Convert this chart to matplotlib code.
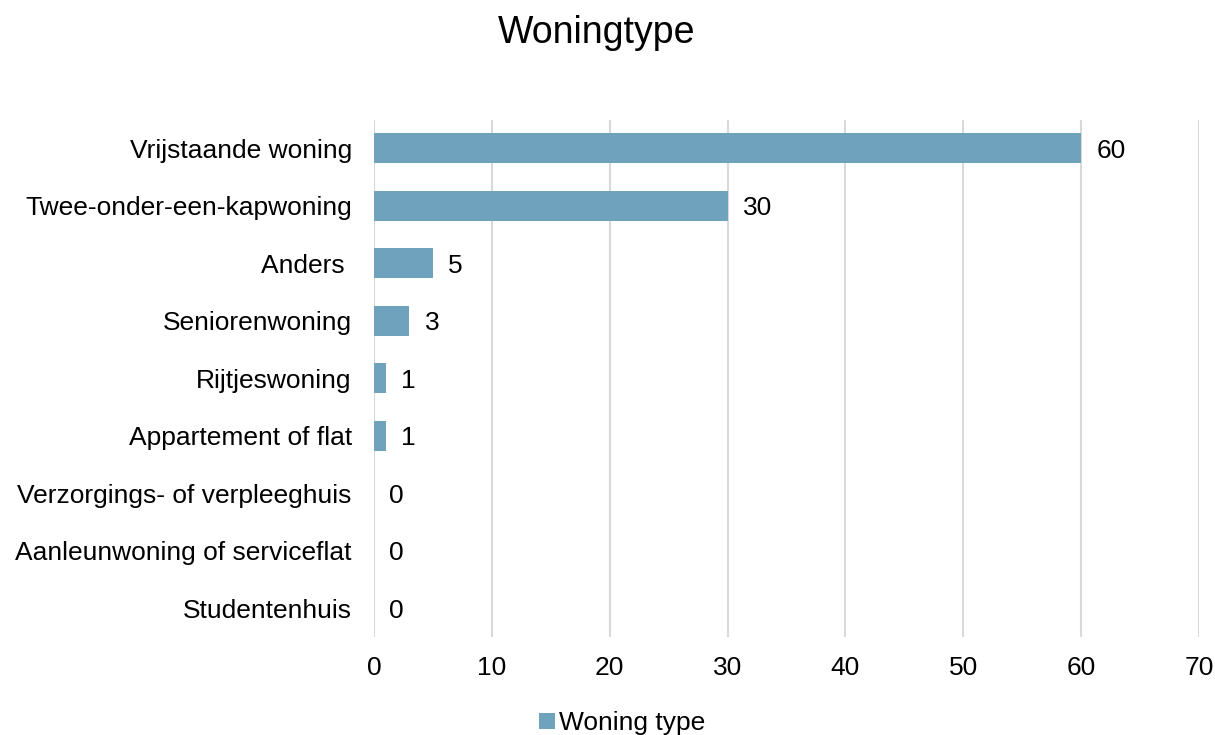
import matplotlib.pyplot as plt

plt.rcParams['font.family'] = ['Liberation Sans', 'DejaVu Sans']

categories = ["Vrijstaande woning", "Twee-onder-een-kapwoning", "Anders ", "Seniorenwoning",
              "Rijtjeswoning", "Appartement of flat", "Verzorgings- of verpleeghuis",
              "Aanleunwoning of serviceflat", "Studentenhuis"]
values = [60, 30, 5, 3, 1, 1, 0, 0, 0]
xticks = [0, 10, 20, 30, 40, 50, 60, 70]

fig = plt.figure(figsize=(12.15, 7.35), dpi=100)
ax = fig.add_axes([0.3078, 0.1333, 0.679, 0.704])

ypos = list(range(len(categories)))
ax.barh(ypos, values, height=0.52, color="#6FA2BC", label="Woning type", zorder=3)
ax.set_ylim(len(categories) - 0.5, -0.5)
ax.set_xlim(0, 70)
ax.set_xticks(xticks)
ax.set_yticks(ypos)
ax.set_yticklabels(categories)
ax.tick_params(axis='both', length=0, labelsize=19)
ax.tick_params(axis='x', pad=14)
ax.tick_params(axis='y', pad=16)
ax.grid(axis='x', color="#D9D9D9", linewidth=1.5, zorder=0)
for s in ax.spines.values():
    s.set_visible(False)

for y, v in zip(ypos, values):
    ax.annotate(str(v), (v, y), xytext=(11, 0), textcoords="offset points",
                va="center_baseline", ha="left", fontsize=19)

fig.text(0.491, 0.955, "Woningtype", fontsize=27, ha="center", va="center")
fig.legend(loc="center", bbox_to_anchor=(0.512, 0.016), frameon=False,
           fontsize=19, handlelength=0.6, handleheight=0.6, handletextpad=0.15,
           borderpad=0, borderaxespad=0)

fig.savefig("out.png", dpi=100)
